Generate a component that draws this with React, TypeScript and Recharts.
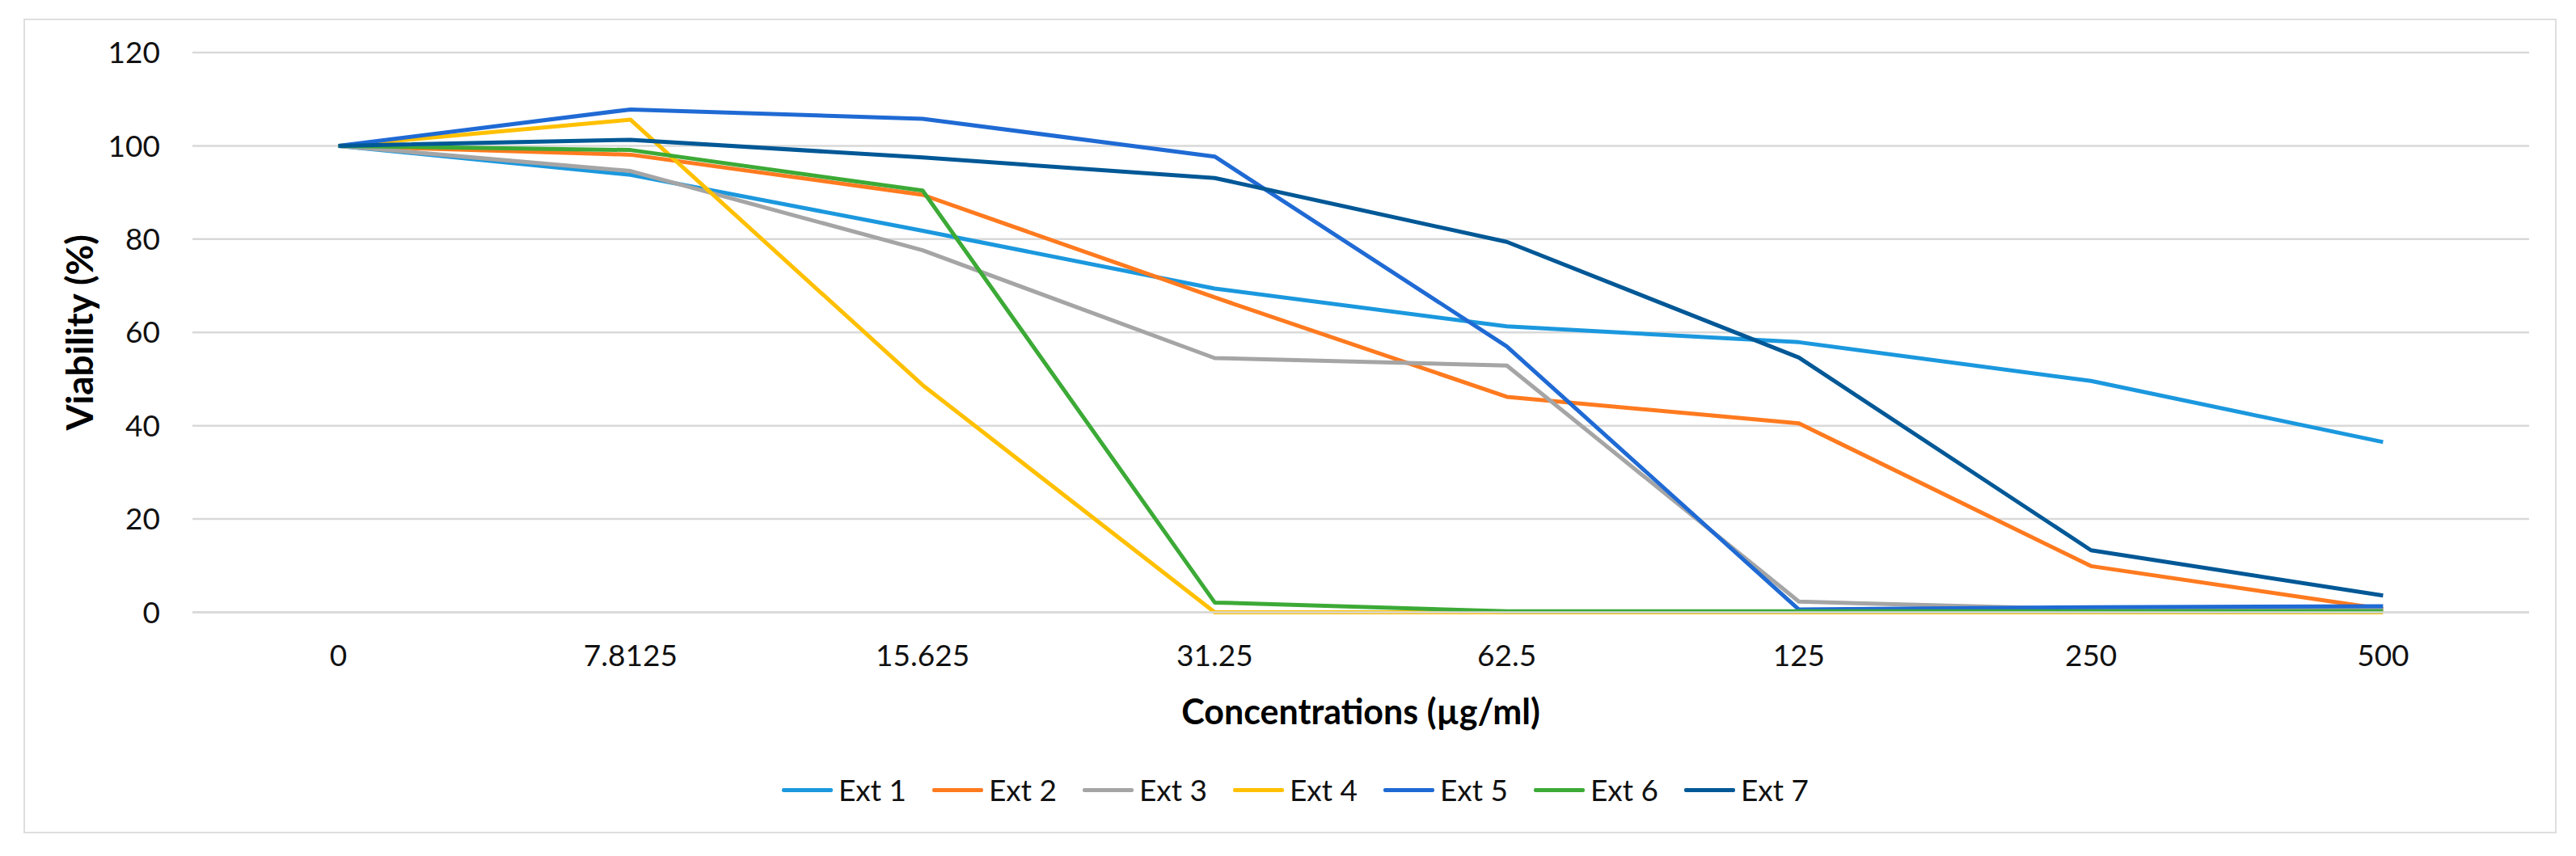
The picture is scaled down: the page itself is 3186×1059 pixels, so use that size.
import React from 'react';
import { LineChart, Line, XAxis, YAxis, CartesianGrid, Legend, Label } from 'recharts';

const concentrations = ['0', '7.8125', '15.625', '31.25', '62.5', '125', '250', '500'];

const ext1 = [100, 93.8, 81.8, 69.4, 61.3, 57.9, 49.6, 36.5];
const ext2 = [100, 98.1, 89.5, 67.5, 46.2, 40.5, 9.9, 0.7];
const ext3 = [100, 94.6, 77.6, 54.5, 52.9, 2.3, 0.6, 0.5];
const ext4 = [100, 105.6, 48.7, 0, 0, 0, 0, 0];
const ext5 = [100, 107.8, 105.8, 97.7, 57.0, 0.6, 1.1, 1.3];
const ext6 = [100, 99.1, 90.4, 2.1, 0.2, 0.2, 0.2, 0.2];
const ext7 = [100, 101.3, 97.5, 93.1, 79.4, 54.6, 13.3, 3.6];

const yTicks = [0, 20, 40, 60, 80, 100, 120];

const series = [
  { key: 'ext1', name: 'Ext 1', values: ext1, color: '#1B98DE' },
  { key: 'ext2', name: 'Ext 2', values: ext2, color: '#FF7A1F' },
  { key: 'ext3', name: 'Ext 3', values: ext3, color: '#A5A5A5' },
  { key: 'ext4', name: 'Ext 4', values: ext4, color: '#FFC000' },
  { key: 'ext5', name: 'Ext 5', values: ext5, color: '#1F6AD4' },
  { key: 'ext6', name: 'Ext 6', values: ext6, color: '#3CAA36' },
  { key: 'ext7', name: 'Ext 7', values: ext7, color: '#005896' },
];

const data = concentrations.map((c, i) => {
  const row: Record<string, string | number> = { conc: c };
  series.forEach((s) => {
    row[s.key] = s.values[i];
  });
  return row;
});

const FONT = 'Lato, "Open Sans", sans-serif';

const renderLegend = () => (
  <div style={{ display: 'flex', fontFamily: FONT, fontSize: 37, color: '#111', lineHeight: '44px' }}>
    {series.map((s) => (
      <div key={s.key} style={{ display: 'flex', alignItems: 'center', width: 186 }}>
        <span style={{ display: 'inline-block', width: 63, height: 5, background: s.color, borderRadius: 2, marginRight: 7 }} />
        <span>{s.name}</span>
      </div>
    ))}
  </div>
);

const App: React.FC = () => {
  return (
    <div style={{ position: 'absolute', left: 0, top: 0, width: 3186, height: 1059, background: '#fff' }}>
      <div
        style={{
          position: 'absolute',
          left: 29,
          top: 23,
          width: 3133,
          height: 1008,
          border: '2px solid #DEDEDE',
          boxSizing: 'border-box',
        }}
      />
      <div style={{ position: 'absolute', left: 0, top: 0 }}>
        <LineChart width={3186} height={1059} data={data} margin={{ top: 65, right: 58, bottom: 151.5, left: 88 }}>
          <CartesianGrid vertical={false} stroke="#D9D9D9" strokeWidth={2.5} />
          <XAxis
            dataKey="conc"
            height={150}
            padding={{ left: 180.6, right: 180.6 }}
            axisLine={{ stroke: '#D9D9D9', strokeWidth: 2.5 }}
            tickLine={false}
            tickSize={0}
            tickMargin={40}
            interval={0}
            tick={{ fill: '#111', fontSize: 37, fontFamily: FONT }}
          >
            <Label
              content={({ viewBox }: any) => (
                <text
                  x={viewBox.x + viewBox.width / 2}
                  y={viewBox.y + 122}
                  textAnchor="middle"
                  dominantBaseline="central"
                  fontFamily={FONT}
                  fontWeight="bold"
                  fontSize={43}
                  fill="#000"
                >
                  Concentrations (µg/ml)
                </text>
              )}
            />
          </XAxis>
          <YAxis
            width={150}
            domain={[0, 120]}
            ticks={yTicks}
            axisLine={false}
            tickLine={false}
            tickSize={0}
            tickMargin={40}
            tick={{ fill: '#111', fontSize: 37, fontFamily: FONT }}
          >
            <Label
              content={({ viewBox }: any) => {
                const cy = viewBox.y + viewBox.height / 2;
                return (
                  <text
                    x={97}
                    y={cy}
                    transform={`rotate(-90, 97, ${cy})`}
                    textAnchor="middle"
                    dominantBaseline="central"
                    fontFamily={FONT}
                    fontWeight="bold"
                    fontSize={46}
                    fill="#000"
                  >
                    Viability (%)
                  </text>
                );
              }}
            />
          </YAxis>
          <Legend
            verticalAlign="middle"
            align="center"
            content={renderLegend}
            wrapperStyle={{ top: 955, left: 967, width: 1400, height: 44 }}
          />
          {series.map((s) => (
            <Line
              key={s.key}
              type="linear"
              dataKey={s.key}
              name={s.name}
              stroke={s.color}
              strokeWidth={5}
              strokeLinejoin="round"
              dot={false}
              activeDot={false}
              isAnimationActive={false}
            />
          ))}
        </LineChart>
      </div>
    </div>
  );
};

export default App;
